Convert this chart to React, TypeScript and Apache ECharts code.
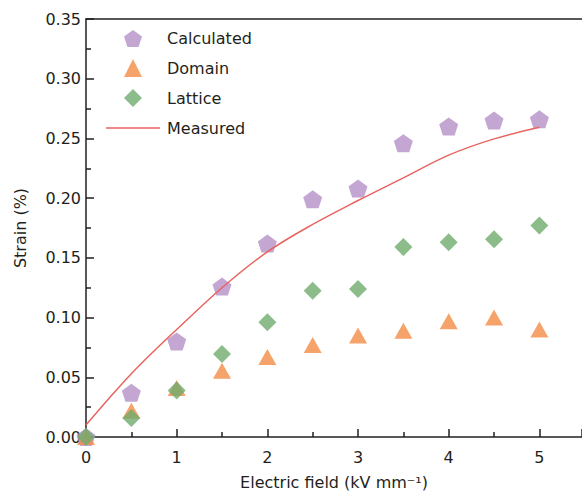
import React, { useEffect, useRef } from "react";
import * as echarts from "echarts";

const fieldValues = [0, 0.5, 1, 1.5, 2, 2.5, 3, 3.5, 4, 4.5, 5];
const calculatedStrain = [0, 0.037, 0.080, 0.126, 0.162, 0.199, 0.208, 0.246, 0.260, 0.265, 0.266];
const domainStrain = [0, 0.022, 0.041, 0.0555, 0.067, 0.077, 0.085, 0.089, 0.097, 0.100, 0.090];
const latticeStrain = [0, 0.016, 0.039, 0.0695, 0.096, 0.1225, 0.124, 0.159, 0.163, 0.1655, 0.177];
const measuredField = [0, 0.25, 0.5, 0.75, 1, 1.5, 2, 2.5, 3, 3.5, 4, 4.5, 5];
const measuredStrain = [0.010, 0.032, 0.053, 0.072, 0.090, 0.125, 0.155, 0.178, 0.198, 0.217, 0.236, 0.2496, 0.2594];
const xTicks = [0, 1, 2, 3, 4, 5];
const yTicks = [0, 0.05, 0.1, 0.15, 0.2, 0.25, 0.3, 0.35];

const FONT = "DejaVu Sans";
const TEXT_COLOR = "#231f20";
const AXIS_COLOR = "#231f20";
const PENTAGON = "path://M0,-1 L0.951,-0.309 L0.588,0.809 L-0.588,0.809 L-0.951,-0.309 Z";

const pair = (xs: number[], ys: number[]) => xs.map((x, i) => [x, ys[i]]);

export default function App() {
  const ref = useRef<HTMLDivElement>(null);
  useEffect(() => {
    document.body.style.margin = "0";
    if (!ref.current) return;
    const chart = echarts.init(ref.current, undefined, { renderer: "svg" });
    const legendText = { fontFamily: FONT, fontSize: 16, color: TEXT_COLOR };
    chart.setOption({
      animation: false,
      backgroundColor: "#ffffff",
      grid: { left: 86, top: 19, width: 496, height: 418, containLabel: false },
      legend: [
        {
          orient: "vertical",
          left: 119,
          top: 25,
          itemWidth: 18,
          itemHeight: 18,
          itemGap: 12,
          textStyle: { ...legendText, padding: [0, 0, 0, 20] },
          data: ["Calculated", "Domain", "Lattice"],
        },
        {
          orient: "vertical",
          left: 101,
          top: 115,
          itemWidth: 54,
          itemHeight: 18,
          textStyle: { ...legendText, padding: [0, 0, 0, 2] },
          data: [{ name: "Measured", icon: "path://M0,8.5 L54,8.5 L54,10 L0,10 Z" }],
        },
      ],
      xAxis: [
        {
          type: "value",
          min: 0,
          max: 5.47,
          interval: 1,
          name: "Electric field (kV mm\u207B\u00B9)",
          nameLocation: "middle",
          nameGap: 37,
          nameTextStyle: { fontFamily: FONT, fontSize: 16, color: TEXT_COLOR },
          axisLine: { lineStyle: { color: AXIS_COLOR, width: 1.5 } },
          axisTick: { inside: true, length: 8, lineStyle: { color: AXIS_COLOR, width: 1.5 } },
          minorTick: { show: true, splitNumber: 2, length: 5, lineStyle: { color: AXIS_COLOR, width: 1.5 } },
          axisLabel: {
            fontFamily: FONT,
            fontSize: 16,
            color: TEXT_COLOR,
            margin: 12,
            showMaxLabel: false,
            formatter: (v: number) => {
              const t = xTicks.find((k) => Math.abs(k - v) < 1e-9);
              return t === undefined ? "" : String(t);
            },
          },
          splitLine: { show: false },
        },
        {
          type: "value",
          position: "top",
          min: 0,
          max: 5.47,
          axisLine: { show: true, lineStyle: { color: AXIS_COLOR, width: 1.5 } },
          axisTick: { show: false },
          axisLabel: { show: false },
          splitLine: { show: false },
        },
      ],
      yAxis: {
        type: "value",
        min: 0,
        max: 0.35,
        interval: 0.05,
        name: "Strain (%)",
        nameLocation: "middle",
        nameGap: 58,
        nameTextStyle: { fontFamily: FONT, fontSize: 16, color: TEXT_COLOR },
        axisLine: { show: true, lineStyle: { color: AXIS_COLOR, width: 1.5 } },
        axisTick: { inside: true, length: 8, lineStyle: { color: AXIS_COLOR, width: 1.5 } },
        minorTick: { show: true, splitNumber: 2, length: 5, lineStyle: { color: AXIS_COLOR, width: 1.5 } },
        axisLabel: {
          fontFamily: FONT,
          fontSize: 16,
          color: TEXT_COLOR,
          margin: 5,
          formatter: (v: number) => {
            const t = yTicks.find((k) => Math.abs(k - v) < 1e-9);
            return t === undefined ? "" : t.toFixed(2);
          },
        },
        splitLine: { show: false },
      },
      series: [
        {
          name: "Calculated",
          type: "scatter",
          symbol: PENTAGON,
          symbolSize: [19, 18],
          itemStyle: { color: "#b490c6" },
          data: pair(fieldValues, calculatedStrain),
          z: 2,
        },
        {
          name: "Domain",
          type: "scatter",
          symbol: "triangle",
          symbolSize: [18, 16],
          itemStyle: { color: "#f28c45" },
          data: pair(fieldValues, domainStrain),
          z: 3,
        },
        {
          name: "Lattice",
          type: "scatter",
          symbol: "diamond",
          symbolSize: [18, 18],
          itemStyle: { color: "#6fab6b" },
          data: pair(fieldValues, latticeStrain),
          z: 4,
        },
        {
          name: "Measured",
          type: "line",
          smooth: 0.35,
          showSymbol: false,
          symbol: "none",
          lineStyle: { color: "#e8645f", width: 1.5 },
          itemStyle: { color: "#e8645f" },
          data: pair(measuredField, measuredStrain),
          z: 5,
        },
      ],
    });
    return () => chart.dispose();
  }, []);
  return <div ref={ref} style={{ width: 582, height: 496 }} />;
}
